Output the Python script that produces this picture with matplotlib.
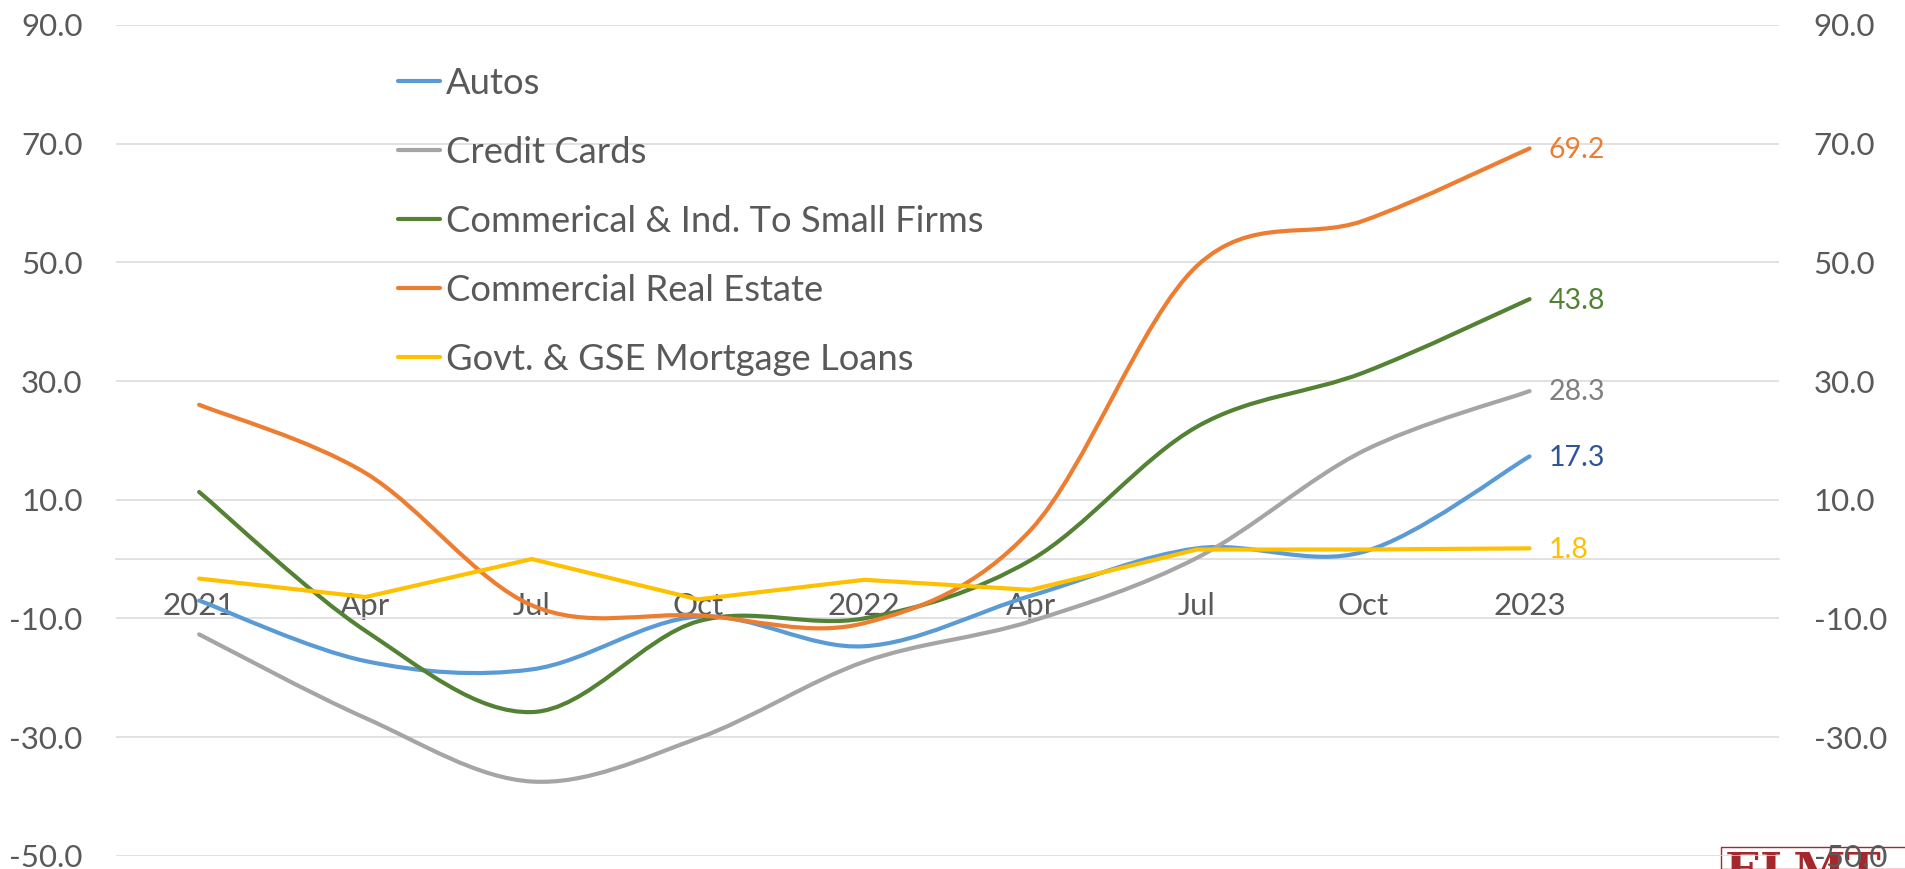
import numpy as np
import matplotlib
matplotlib.use("Agg")
import matplotlib.pyplot as plt
from matplotlib.path import Path
from matplotlib.patches import PathPatch, Rectangle
from matplotlib.lines import Line2D

# ---- data ----
categories = ["2021", "Apr", "Jul", "Oct", "2022", "Apr", "Jul", "Oct", "2023"]
autos = [-7.0, -17.2, -18.6, -9.7, -14.7, -6.2, 1.8, 1.2, 17.3]
credit_cards = [-12.7, -26.8, -37.5, -30.2, -17.3, -10.5, 0.2, 18.2, 28.3]
ci_small = [11.3, -12.1, -25.8, -10.5, -10.0, -0.2, 22.3, 31.4, 43.8]
cre = [26.0, 14.5, -7.8, -9.5, -10.8, 4.9, 49.4, 57.0, 69.2]
govt_gse = [-3.3, -6.4, 0.0, -6.8, -3.5, -5.2, 1.6, 1.6, 1.8]

series_names = ["Autos", "Credit Cards", "Commerical & Ind. To Small Firms",
                "Commercial Real Estate", "Govt. & GSE Mortgage Loans"]
series_values = [autos, credit_cards, ci_small, cre, govt_gse]
series_colors = ["#5B9BD5", "#A5A5A5", "#548235", "#ED7D31", "#FFC000"]
label_colors = ["#2F5597", "#7F7F7F", "#548235", "#ED7D31", "#FFC000"]
smoothed = [True, True, True, True, False]

y_ticks = [-50, -30, -10, 10, 30, 50, 70, 90]

plt.rcParams['font.family'] = ['Lato', 'DejaVu Sans']
TXT = "#595959"

fig = plt.figure(figsize=(19.06, 8.69), dpi=100)
fig.patch.set_facecolor("white")

L, R = 116 / 1906, 1779 / 1906
B, T = 1 - 855.7 / 869, 1 - 25 / 869
ax = fig.add_axes([L, B, R - L, T - B])
ax.set_facecolor("none")
ax.set_xlim(-0.5, 9.5)
ax.set_ylim(-50, 90)


def smooth_path(xs, ys):
    pts = np.column_stack([xs, ys]).astype(float)
    n = len(pts)
    verts = [pts[0]]
    codes = [Path.MOVETO]
    for i in range(n - 1):
        p0 = pts[i - 1] if i > 0 else pts[i]
        p1 = pts[i]
        p2 = pts[i + 1]
        p3 = pts[i + 2] if i + 2 < n else pts[i + 1]
        c1 = p1 + (p2 - p0) / 6.0
        c2 = p2 - (p3 - p1) / 6.0
        verts += [c1, c2, p2]
        codes += [Path.CURVE4] * 3
    return Path(verts, codes)


x = np.arange(len(categories))
handles = []
for name, vals, col, lc, sm in zip(series_names, series_values, series_colors,
                                    label_colors, smoothed):
    if sm:
        patch = PathPatch(smooth_path(x, vals), facecolor="none", edgecolor=col,
                          lw=3.0, capstyle="round", joinstyle="round", zorder=3)
        ax.add_patch(patch)
    else:
        ax.plot(x, vals, color=col, lw=3.0, solid_capstyle="round",
                solid_joinstyle="miter", zorder=3)
    ax.annotate(f"{vals[-1]:.1f}", xy=(x[-1], vals[-1]), xytext=(14, -1),
                textcoords="offset points", color=lc, fontsize=20.5,
                va="center", ha="left")
    handles.append(Line2D([0], [0], color=col, lw=3.0, solid_capstyle="round"))

# grid & axes
ax.set_yticks(y_ticks)
ax.set_yticklabels([f"{v:.1f}" for v in y_ticks])
ax.yaxis.grid(True, color="#D9D9D9", lw=1.1, zorder=0)
ax.set_axisbelow(True)
ax.tick_params(axis="y", length=0, pad=24, labelsize=22.5, labelcolor=TXT)
for s in ["top", "right", "left"]:
    ax.spines[s].set_visible(False)
ax.spines["bottom"].set_position(("data", 0))
ax.spines["bottom"].set_color("#D9D9D9")
ax.spines["bottom"].set_linewidth(1.1)
ax.set_xticks(x)
ax.set_xticklabels(categories)
ax.tick_params(axis="x", length=0, pad=23.5, labelsize=22.5, labelcolor=TXT)

ax2 = ax.twinx()
ax2.set_ylim(ax.get_ylim())
ax2.set_yticks(y_ticks)
ax2.set_yticklabels([f"{v:.1f}" for v in y_ticks])
ax2.tick_params(axis="y", length=0, pad=25, labelsize=22.5, labelcolor=TXT)
for s in ax2.spines.values():
    s.set_visible(False)
ax2.set_facecolor("none")

leg = ax.legend(handles, series_names, loc="upper left",
                bbox_to_anchor=(398 / 1906, 1 - 67 / 869),
                bbox_transform=fig.transFigure, frameon=False,
                fontsize=26.2, handlelength=1.15, handletextpad=0.16,
                labelspacing=0.99, borderpad=0, borderaxespad=0)
for t in leg.get_texts():
    t.set_color(TXT)

# partial logo at bottom-right
fig.patches.append(Rectangle((1721 / 1906, 0), 0.2, 1 - 847 / 869,
                             transform=fig.transFigure, facecolor="white",
                             edgecolor="#A5282C", lw=1.0, zorder=-2))
fig.text(1725 / 1906, 1 - 850 / 869, "ELMT", fontsize=34, fontweight="bold",
         family="DejaVu Serif", color="#A5282C", va="top", ha="left",
         zorder=-1)

fig.savefig("out.png", dpi=100)
